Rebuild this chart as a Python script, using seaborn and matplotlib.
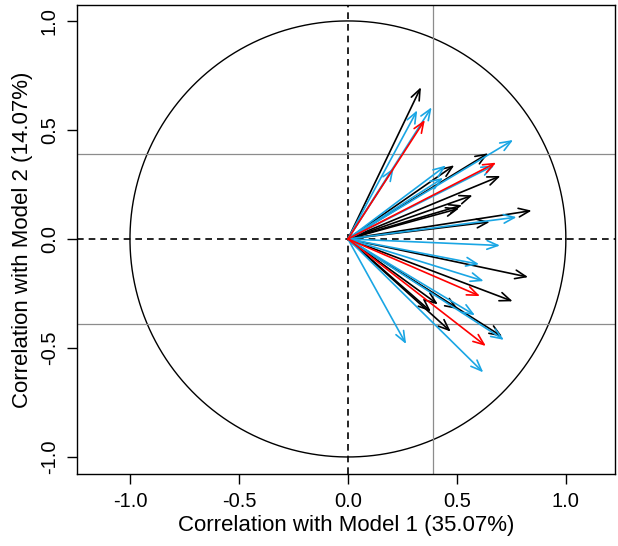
import numpy as np
import pandas as pd
import matplotlib
matplotlib.use("Agg")
import matplotlib.pyplot as plt
import seaborn as sns

# correlation circle: variable loadings on the two model components
black_x = [0.335, 0.644, 0.700, 0.488, 0.572, 0.524, 0.510, 0.843, 0.651,
           0.827, 0.756, 0.413, 0.381, 0.505, 0.472, 0.708]
black_y = [0.696, 0.393, 0.289, 0.338, 0.200, 0.155, 0.140, 0.130, 0.078,
           -0.175, -0.286, -0.300, -0.333, -0.322, -0.425, -0.448]

blue_x = [0.318, 0.384, 0.210, 0.758, 0.672, 0.450, 0.437, 0.774, 0.698,
          0.602, 0.623, 0.583, 0.716, 0.267, 0.621]
blue_y = [0.590, 0.604, 0.325, 0.454, 0.338, 0.337, 0.280, 0.100, -0.030,
          -0.116, -0.193, -0.350, -0.463, -0.482, -0.612]

red_x = [0.353, 0.680, 0.606, 0.633]
red_y = [0.546, 0.350, -0.262, -0.491]

cutoff = 0.39
xlab = "Correlation with Model 1 (35.07%)"
ylab = "Correlation with Model 2 (14.07%)"

BLUE = "#1aa6e4"

sns.set_theme(style="ticks")
plt.rcParams['font.family'] = ['Liberation Sans', 'DejaVu Sans']
plt.rcParams['text.color'] = 'black'
plt.rcParams['axes.labelcolor'] = 'black'
plt.rcParams['xtick.color'] = 'black'
plt.rcParams['ytick.color'] = 'black'

fig = plt.figure(figsize=(6.18, 5.46), dpi=100)
ax = fig.add_axes([0.1246, 0.1319, 0.8704, 0.8589])

# unit circle
theta = np.linspace(0, 2 * np.pi, 200)
circle = pd.DataFrame({"x": np.cos(theta), "y": np.sin(theta)})
sns.lineplot(data=circle, x="x", y="y", sort=False, estimator=None,
             color="black", linewidth=1.0, ax=ax)

# reference lines
ax.axhline(0, color="black", linestyle=(0, (4, 3)), linewidth=1.2)
ax.axvline(0, color="black", linestyle=(0, (4, 3)), linewidth=1.2)
ax.axhline(cutoff, color="#8c8c8c", linewidth=0.9)
ax.axhline(-cutoff, color="#8c8c8c", linewidth=0.9)
ax.axvline(cutoff, color="#8c8c8c", linewidth=0.9)

def draw_arrows(xs, ys, color):
    for x, y in zip(xs, ys):
        ax.annotate("", xy=(x, y), xytext=(0, 0),
                    arrowprops=dict(arrowstyle="->,head_length=0.65,head_width=0.26",
                                    color=color, lw=1.2,
                                    shrinkA=0, shrinkB=0))

draw_arrows(black_x, black_y, "black")
draw_arrows(blue_x, blue_y, BLUE)
draw_arrows(red_x, red_y, "red")

ax.set_xlim(-1.243, 1.225)
ax.set_ylim(-1.078, 1.073)
ax.set_xticks([-1.0, -0.5, 0.0, 0.5, 1.0])
ax.set_yticks([-1.0, -0.5, 0.0, 0.5, 1.0])
ax.set_xticklabels(["-1.0", "-0.5", "0.0", "0.5", "1.0"])
ax.set_yticklabels(["-1.0", "-0.5", "0.0", "0.5", "1.0"], rotation=90, va="center")
ax.tick_params(axis="both", direction="out", length=7, width=1, labelsize=14.5,
               color="black", labelcolor="black", pad=6)
ax.set_xlabel(xlab, fontsize=16, labelpad=3)
ax.set_ylabel(ylab, fontsize=16, labelpad=5)
for s in ax.spines.values():
    s.set_visible(True)
    s.set_color("black")
    s.set_linewidth(1.0)

fig.savefig("out.png", dpi=100)
